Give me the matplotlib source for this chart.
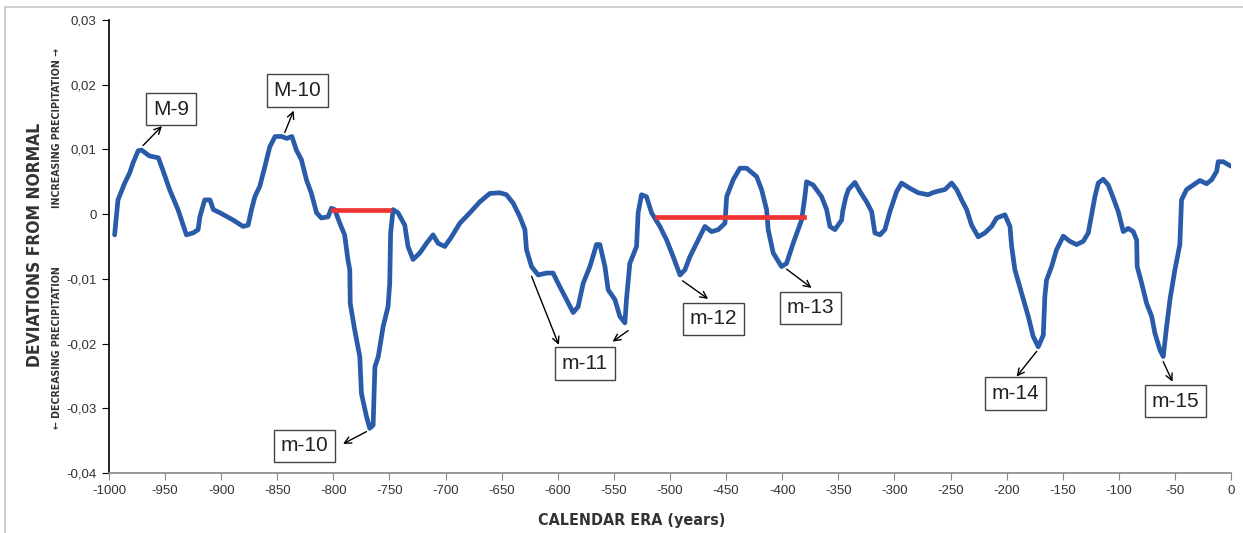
import matplotlib
matplotlib.use('Agg')
import matplotlib.pyplot as plt
from matplotlib.patches import Rectangle

# curve (calendar year, deviation from normal)
years = [-995, -992, -986, -981.5, -978.6, -974, -971, -964, -956, -952, -946, -938.5,
         -931, -925, -920.6, -919, -914.7, -910, -907, -901, -889.5, -880.5, -876, -873,
         -870, -865.6, -861, -856.7, -852, -846, -841.6, -837, -833, -828.5, -824, -819.6,
         -815, -810.6, -804.7, -801.8, -798.8, -794.3, -790, -787, -785.4, -785, -781,
         -776.5, -775, -770.5, -767.6, -764.6, -763, -760, -755.7, -751.3, -749.8, -749.3,
         -749, -746.8, -742.4, -736.4, -733.5, -729, -723, -717, -711.2, -706.7, -700.7,
         -694.7, -687.3, -678.4, -669.5, -660.6, -651.7, -645.7, -639.8, -633.8, -629.3,
         -627.9, -623.4, -617.5, -610, -604.2, -599.7, -593.7, -586.3, -581.9, -577.4,
         -571.4, -565.5, -562.5, -558, -555.1, -549.1, -544.7, -540.2, -538.8, -535.8,
         -529.8, -528.4, -525.4, -521, -516.4, -509, -503, -497.1, -491.1, -486.7, -482.3,
         -476.3, -471.8, -468.9, -462.9, -457, -451, -449.5, -443.7, -437.7, -431.7, -422.8,
         -418.4, -413.9, -412.5, -408, -400.6, -396.1, -390.2, -382.7, -379.8, -378.3,
         -372.4, -364.9, -360.4, -357.5, -353, -347, -346, -343.5, -341, -335.2, -330.7,
         -324.8, -320.3, -317.4, -312.9, -308.5, -304, -298, -293.6, -286.2, -278.8, -269.9,
         -266, -262.4, -255, -249, -244.5, -240.1, -235.6, -231.2, -225.3, -219.3, -213.4,
         -208.9, -201.5, -197, -195.5, -192.6, -186.6, -180.7, -176.3, -171.8, -167.3,
         -165.9, -164.4, -159.9, -155.5, -149.5, -143.6, -137.6, -131.7, -127.2, -124.2,
         -121.3, -118.3, -113.9, -109.4, -104.9, -100.5, -96, -91.6, -87.1, -84.1, -83.6,
         -79.6, -75.2, -70.7, -67.8, -63.3, -60.4, -57.4, -54.4, -50, -45.6, -44.1, -39.6,
         -33.7, -27.7, -21.8, -17.3, -12.8, -11.4, -6.9, 0]
deviation = [-0.0032, 0.0022, 0.0048, 0.0064, 0.0079, 0.0098, 0.0099, 0.0090, 0.0087, 0.0068,
             0.0038, 0.0007, -0.0032, -0.0029, -0.0024, -0.0004, 0.0022, 0.0022, 0.0007,
             0.0002, -0.0009, -0.0019, -0.0017, 0.0007, 0.0027, 0.0043, 0.0074, 0.0104, 0.0120,
             0.0120, 0.0117, 0.0120, 0.0099, 0.0084, 0.0053, 0.0032, 0.0002, -0.0006, -0.0004,
             0.0009, 0.0007, -0.0014, -0.0032, -0.0071, -0.0086, -0.0138, -0.0179, -0.0220,
             -0.0277, -0.0313, -0.0331, -0.0326, -0.0236, -0.0220, -0.0174, -0.0143, -0.0107,
             -0.0055, -0.0029, 0.0007, 0.0002, -0.0017, -0.0050, -0.0070, -0.0060, -0.0045,
             -0.0032, -0.0045, -0.0050, -0.0035, -0.0014, 0.0002, 0.0019, 0.0032, 0.0033,
             0.0030, 0.0017, -0.0004, -0.0024, -0.0055, -0.0081, -0.0094, -0.0091, -0.0091,
             -0.0107, -0.0127, -0.0152, -0.0143, -0.0107, -0.0081, -0.0047, -0.0047, -0.0081,
             -0.0117, -0.0132, -0.0158, -0.0168, -0.0132, -0.0076, -0.0050, 0.0002, 0.0030,
             0.0027, 0.0002, -0.0019, -0.0040, -0.0066, -0.0094, -0.0086, -0.0066, -0.0045,
             -0.0029, -0.0019, -0.0027, -0.0024, -0.0014, 0.0027, 0.0053, 0.0071, 0.0071,
             0.0058, 0.0038, 0.0007, -0.0024, -0.0060, -0.0081, -0.0076, -0.0045, -0.0009,
             0.0027, 0.0050, 0.0045, 0.0027, 0.0007, -0.0019, -0.0024, -0.0009, 0.0005, 0.0025,
             0.0038, 0.0049, 0.0035, 0.0019, 0.0004, -0.0029, -0.0032, -0.0024, 0.0004, 0.0035,
             0.0048, 0.0040, 0.0033, 0.0030, 0.0033, 0.0035, 0.0038, 0.0048, 0.0038, 0.0022,
             0.0007, -0.0017, -0.0035, -0.0029, -0.0019, -0.0006, -0.0001, -0.0019, -0.0050,
             -0.0086, -0.0122, -0.0158, -0.0189, -0.0205, -0.0187, -0.0127, -0.0102, -0.0081,
             -0.0055, -0.0034, -0.0042, -0.0047, -0.0042, -0.0029, -0.0001, 0.0027, 0.0048,
             0.0054, 0.0045, 0.0025, 0.0004, -0.0027, -0.0022, -0.0027, -0.0040, -0.0081,
             -0.0107, -0.0138, -0.0158, -0.0184, -0.0210, -0.0220, -0.0174, -0.0132, -0.0086,
             -0.0047, 0.0022, 0.0038, 0.0045, 0.0052, 0.0047, 0.0053, 0.0066, 0.0081, 0.0081,
             0.0074]

# red horizontal markers: (start year, end year, level)
red_start = [-800, -512]
red_end = [-750, -381]
red_level = [0.0007, -0.0005]

# labelled extrema: label, box centre, arrow tail, arrow head
labels = ['M-9', 'M-10', 'm-10', 'm-11', 'm-12', 'm-13', 'm-14', 'm-15']
label_x = [-944.7, -832.2, -825.5, -575.9, -461.5, -374.6, -192.2, -49.7]
label_y = [0.0162, 0.0191, -0.0358, -0.0231, -0.0162, -0.0145, -0.0277, -0.0289]
arrow_from = [(-969.7, 0.0106), (-843.4, 0.0126), (-770.5, -0.0336), (-623.4, -0.0096),
              (-537.3, -0.0180), (-488.8, -0.0103), (-396.1, -0.0085), (-173.2, -0.0212),
              (-60.4, -0.0228)]
arrow_to = [(-952.8, 0.0136), (-835.4, 0.0160), (-791.4, -0.0355), (-599.1, -0.0202),
            (-551.2, -0.0197), (-466.0, -0.0131), (-373.8, -0.0114), (-191.1, -0.0251),
            (-52.1, -0.0259)]

x_ticks = list(range(-1000, 1, 50))
y_ticks = [-0.04, -0.03, -0.02, -0.01, 0, 0.01, 0.02, 0.03]
y_tick_labels = ['-0,04', '-0,03', '-0,02', '-0,01', '0', '0,01', '0,02', '0,03']

plt.rcParams['font.family'] = ['Liberation Sans', 'DejaVu Sans']
condensed = dict(family=['DejaVu Sans'], fontstretch='condensed', fontweight='bold',
                 color='#333333')

fig = plt.figure(figsize=(12.43, 5.33), dpi=100)
ax = fig.add_axes([109 / 1243, 1 - 473 / 533, 1122 / 1243, 453 / 533])

# light frame around the whole chart
fig.patches.append(Rectangle((5 / 1243, -0.01), 1.0, 1 - 7 / 533 + 0.01, transform=fig.transFigure,
                             fill=False, edgecolor='#c8c8c8', linewidth=1.2))

ax.plot(years, deviation, color='#2a5ba8', linewidth=3.4, solid_joinstyle='round',
        solid_capstyle='round', zorder=3)
for x0, x1, lvl in zip(red_start, red_end, red_level):
    ax.plot([x0, x1], [lvl, lvl], color='#ee3333', linewidth=3.4, zorder=4)

for txt, tx, ty in zip(labels, label_x, label_y):
    ax.text(tx, ty, txt, fontsize=15, ha='center', va='center', color='#222222', zorder=5,
            bbox=dict(boxstyle='square,pad=0.32', facecolor='white', edgecolor='#444444',
                      linewidth=1.0))
for tail, head in zip(arrow_from, arrow_to):
    ax.annotate('', xy=head, xytext=tail,
                arrowprops=dict(arrowstyle='->', color='black', linewidth=1.0,
                                shrinkA=0, shrinkB=0, mutation_scale=12), zorder=5)

ax.set_xlim(-1000, 0)
ax.set_ylim(-0.04, 0.03)
ax.set_xticks(x_ticks)
ax.set_xticklabels([str(v) for v in x_ticks], fontsize=9.5, color='#333333')
ax.set_yticks(y_ticks)
ax.set_yticklabels(y_tick_labels, fontsize=9.5, color='#333333')
ax.tick_params(axis='x', direction='out', length=5, color='#888888', pad=4)
ax.tick_params(axis='y', direction='out', length=5, color='black', pad=4)

for side in ['top', 'right']:
    ax.spines[side].set_visible(False)
ax.spines['left'].set_color('black')
ax.spines['left'].set_linewidth(1.2)
ax.spines['bottom'].set_color('#888888')
ax.spines['bottom'].set_linewidth(1.2)

fig.text(632 / 1243, 1 - 520 / 533, 'CALENDAR ERA (years)', ha='center', va='center',
         fontsize=11.5, **condensed)
fig.text(35 / 1243, 1 - 245 / 533, 'DEVIATIONS FROM NORMAL', rotation=90, ha='center',
         va='center', fontsize=12.5, **condensed)
fig.text(57 / 1243, 1 - 128 / 533, 'INCREASING PRECIPITATION \u2192', rotation=90, ha='center',
         va='center', fontsize=7.6, **condensed)
fig.text(57 / 1243, 1 - 348 / 533, '\u2190 DECREASING PRECIPITATION', rotation=90, ha='center',
         va='center', fontsize=7.6, **condensed)

fig.savefig('out.png', dpi=100, facecolor='white')
